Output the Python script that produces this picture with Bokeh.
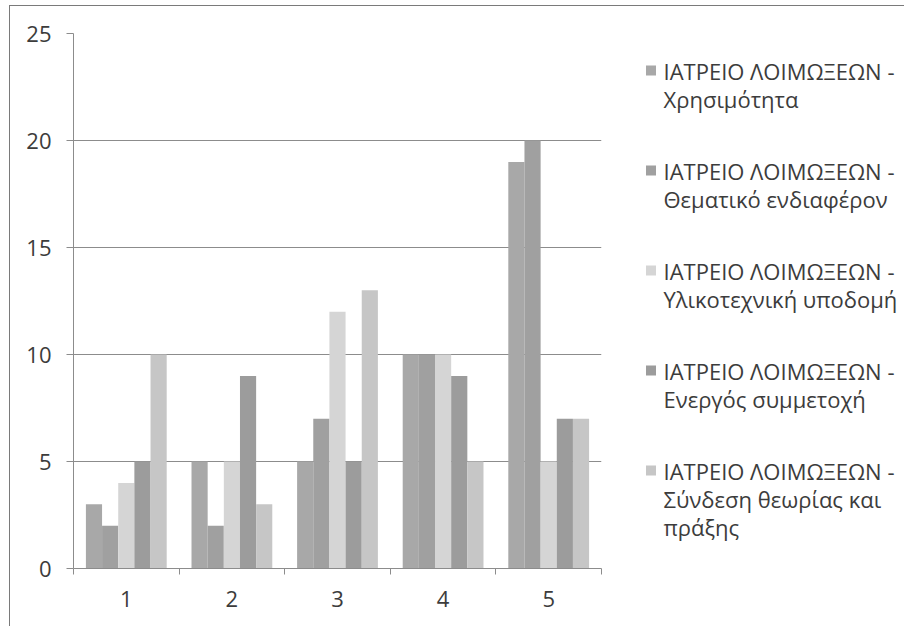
from bokeh.plotting import figure
from bokeh.layouts import row
from bokeh.models import ColumnDataSource, FixedTicker, Range1d
from bokeh.transform import dodge
from bokeh.core.properties import value
from bokeh.embed import file_html
from bokeh.resources import INLINE

categories = [1, 2, 3, 4, 5]
category_labels = ["1", "2", "3", "4", "5"]
series_names = [
    ["ΙΑΤΡΕΙΟ ΛΟΙΜΩΞΕΩΝ -", "Χρησιμότητα"],
    ["ΙΑΤΡΕΙΟ ΛΟΙΜΩΞΕΩΝ -", "Θεματικό ενδιαφέρον"],
    ["ΙΑΤΡΕΙΟ ΛΟΙΜΩΞΕΩΝ -", "Υλικοτεχνική υποδομή"],
    ["ΙΑΤΡΕΙΟ ΛΟΙΜΩΞΕΩΝ -", "Ενεργός συμμετοχή"],
    ["ΙΑΤΡΕΙΟ ΛΟΙΜΩΞΕΩΝ -", "Σύνδεση θεωρίας και", "πράξης"],
]
chrisimotita = [3, 5, 5, 10, 19]
thematiko = [2, 2, 7, 10, 20]
ylikotexniki = [4, 5, 12, 10, 5]
energos = [5, 9, 5, 9, 7]
syndesi = [10, 3, 13, 5, 7]
y_ticks = [0, 5, 10, 15, 20, 25]
colors = ["#a8a8a8", "#a0a0a0", "#d5d5d5", "#9c9c9c", "#c6c6c6"]

series = [chrisimotita, thematiko, ylikotexniki, energos, syndesi]
keys = ["s1", "s2", "s3", "s4", "s5"]
data = {"x": categories}
for k, s in zip(keys, series):
    data[k] = s
source = ColumnDataSource(data)

FONT = "Open Sans"
FS = "22px"
TEXT = "#3c3c3c"
LINE = "#8c8c8c"
H = 620
TOP = 27
BOTTOM = 58
FRAME_H = H - TOP - BOTTOM

# ---------------- main chart ----------------
p = figure(width=601, height=H, output_backend="svg", toolbar_location=None,
           x_range=Range1d(0.5, 5.5), y_range=Range1d(0, 25),
           min_border_left=63, min_border_right=10, min_border_top=TOP, min_border_bottom=BOTTOM)
p.outline_line_color = None
p.background_fill_color = "white"
p.border_fill_color = "white"

bw = 0.153
offsets = [-2 * bw, -bw, 0.0, bw, 2 * bw]
for k, off, c in zip(keys, offsets, colors):
    p.vbar(x=dodge("x", off), top=k, width=bw, bottom=0, source=source,
           fill_color=c, line_color=None)

p.xaxis.ticker = FixedTicker(ticks=categories,
                             minor_ticks=[c - 0.5 for c in categories] + [categories[-1] + 0.5])
p.xaxis.major_label_overrides = {c: l for c, l in zip(categories, category_labels)}
p.xaxis.major_tick_line_color = None
p.xaxis.major_tick_in = 0
p.xaxis.major_tick_out = 0
p.xaxis.minor_tick_line_color = LINE
p.xaxis.minor_tick_in = 0
p.xaxis.minor_tick_out = 6
p.xaxis.axis_line_color = LINE
p.xaxis.major_label_text_font = FONT
p.xaxis.major_label_text_font_size = FS
p.xaxis.major_label_text_color = TEXT
p.xaxis.major_label_standoff = 16

p.yaxis.ticker = FixedTicker(ticks=y_ticks, minor_ticks=[])
p.yaxis.axis_line_color = LINE
p.yaxis.major_tick_line_color = LINE
p.yaxis.major_tick_in = 0
p.yaxis.major_tick_out = 7
p.yaxis.major_label_text_font = FONT
p.yaxis.major_label_text_font_size = FS
p.yaxis.major_label_text_color = TEXT
p.yaxis.major_label_standoff = 15

p.xgrid.grid_line_color = None
p.ygrid.grid_line_color = LINE
p.ygrid.grid_line_width = 1

# ---------------- legend panel (frame aligned with the chart's frame) ----------------
LW = 293
lp = figure(width=LW, height=H, output_backend="svg", toolbar_location=None,
            x_range=Range1d(0, LW), y_range=Range1d(FRAME_H, 0),
            min_border_left=0, min_border_right=0, min_border_top=TOP, min_border_bottom=BOTTOM,
            x_axis_type=None, y_axis_type=None)
lp.outline_line_color = None
lp.grid.visible = False
lp.background_fill_color = "white"
lp.border_fill_color = "white"

first_y = 37
entry_step = 100
line_h = 28
sq_x = 39.5
txt_x = 52

sq_xs, sq_ys = [], []
tx, ty, tt = [], [], []
for i, lines in enumerate(series_names):
    y0 = first_y + i * entry_step
    sq_xs.append(sq_x)
    sq_ys.append(y0)
    for j, t in enumerate(lines):
        tx.append(txt_x)
        ty.append(y0 + j * line_h)
        tt.append(t)

lp.rect(x=sq_xs, y=sq_ys, width=10, height=10, fill_color=colors, line_color=None)
lp.text(x=tx, y=ty, text=tt, text_baseline="middle", text_align="left",
        text_font=value(FONT), text_font_size=FS, text_color=TEXT)

layout = row(p, lp, styles={"border-left": "1px solid #7a7a7a",
                            "border-top": "1px solid #7a7a7a",
                            "margin-left": "9px", "margin-top": "5px"})

open("out.html", "w").write(file_html(layout, INLINE))
